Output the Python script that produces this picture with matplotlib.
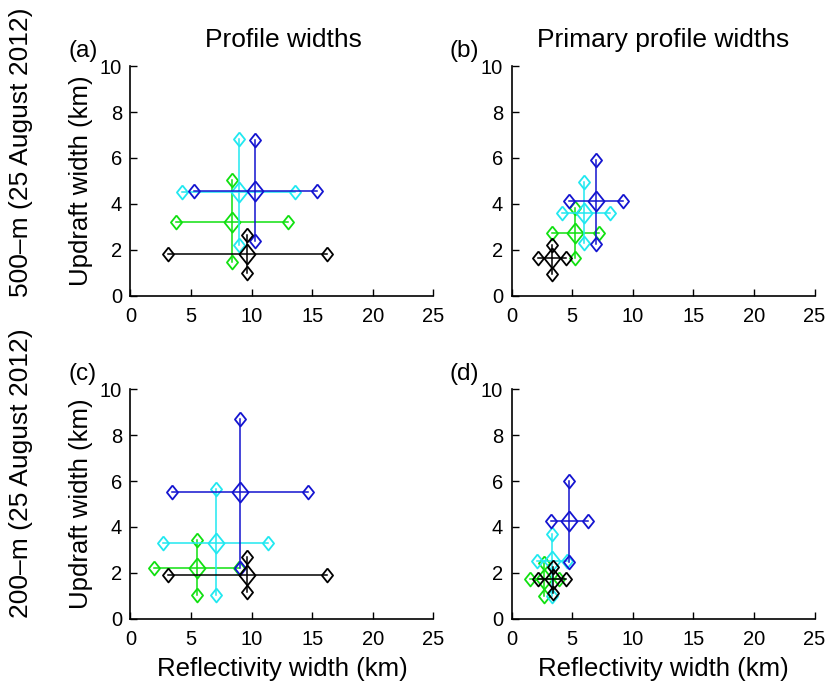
import matplotlib
matplotlib.use("Agg")
import matplotlib.pyplot as plt

plt.rcParams['font.family'] = ['Liberation Sans', 'DejaVu Sans']

# series order: green, cyan, blue, black
colors = ['#10e010', '#20e8f0', '#1414d0', 'black']

# (a) 500-m, profile widths
a_cx = [8.38, 8.99, 10.28, 9.65]
a_cy = [3.23, 4.54, 4.58, 1.82]
a_xlo = [3.76, 4.26, 5.25, 3.07]
a_xhi = [13.03, 13.58, 15.37, 16.25]
a_ylo = [1.48, 2.21, 2.40, 1.00]
a_yhi = [5.05, 6.83, 6.77, 2.65]

# (b) 500-m, primary profile widths
b_cx = [5.28, 6.02, 6.96, 3.32]
b_cy = [2.74, 3.62, 4.13, 1.66]
b_xlo = [3.38, 4.2, 4.77, 2.21]
b_xhi = [7.19, 8.1, 9.22, 4.47]
b_ylo = [1.63, 2.29, 2.26, 0.95]
b_yhi = [3.82, 4.95, 5.90, 2.21]

# (c) 200-m, profile widths
c_cx = [5.47, 7.06, 9.04, 9.65]
c_cy = [2.19, 3.32, 5.50, 1.90]
c_xlo = [1.95, 2.72, 3.46, 3.07]
c_xhi = [8.95, 11.38, 14.68, 16.25]
c_ylo = [1.03, 1.03, 2.23, 1.15]
c_yhi = [3.45, 5.67, 8.71, 2.70]

# (d) 200-m, primary profile widths
d_cx = [2.72, 3.38, 4.74, 3.42]
d_cy = [1.74, 2.53, 4.25, 1.75]
d_xlo = [1.55, 2.08, 3.26, 2.21]
d_xhi = [3.95, 4.62, 6.29, 4.50]
d_ylo = [0.97, 1.0, 2.48, 1.13]
d_yhi = [2.41, 3.68, 6.0, 2.26]

panels = [
    (a_cx, a_cy, a_xlo, a_xhi, a_ylo, a_yhi),
    (b_cx, b_cy, b_xlo, b_xhi, b_ylo, b_yhi),
    (c_cx, c_cy, c_xlo, c_xhi, c_ylo, c_yhi),
    (d_cx, d_cy, d_xlo, d_xhi, d_ylo, d_yhi),
]
letters = ['(a)', '(b)', '(c)', '(d)']

diamond = [(0, 1), (0.8, 0), (0, -1), (-0.8, 0), (0, 1)]

fig = plt.figure(figsize=(8.3, 6.87), dpi=100)
W, H = 830.0, 687.0
lefts = [130.4, 511.5]
bottoms = [295.7, 618.7]
aw, ah = 303.0, 229.5

axes = []
for i, data in enumerate(panels):
    r, c = divmod(i, 2)
    ax = fig.add_axes([lefts[c] / W, 1 - bottoms[r] / H, aw / W, ah / H])
    axes.append(ax)
    cx, cy, xlo, xhi, ylo, yhi = data
    for k in range(len(cx)):
        col = colors[k]
        ax.plot([xlo[k], xhi[k]], [cy[k], cy[k]], color=col, lw=1.1)
        ax.plot([cx[k], cx[k]], [ylo[k], yhi[k]], color=col, lw=1.1)
        ax.plot([xlo[k], xhi[k], cx[k], cx[k]], [cy[k], cy[k], ylo[k], yhi[k]],
                ls='none', marker=diamond, ms=10, mfc='none', mec=col, mew=1.3)
        ax.plot([cx[k]], [cy[k]], ls='none', marker=diamond, ms=14.5, mfc='none',
                mec=col, mew=1.3)
    ax.set_xlim(0, 25)
    ax.set_ylim(0, 10)
    ax.set_xticks([0, 5, 10, 15, 20, 25])
    ax.set_yticks([0, 2, 4, 6, 8, 10])
    for s in ['top', 'right']:
        ax.spines[s].set_visible(False)
    for s in ['left', 'bottom']:
        ax.spines[s].set_linewidth(1.2)
    ax.tick_params(direction='in', length=5, width=1.0, labelsize=14.5)
    ax.tick_params(axis='x', pad=8)
    ax.tick_params(axis='y', pad=6)
    ax.text(-0.205, 1.065, letters[i], transform=ax.transAxes, fontsize=17.5,
            ha='left', va='center')

axes[0].set_ylabel('Updraft width (km)', fontsize=18.5, labelpad=5)
axes[2].set_ylabel('Updraft width (km)', fontsize=18.5, labelpad=5)
axes[2].set_xlabel('Reflectivity width (km)', fontsize=18.5, labelpad=6)
axes[3].set_xlabel('Reflectivity width (km)', fontsize=18.5, labelpad=6)

fig.text(283 / W, 1 - 40 / H, 'Profile widths', fontsize=19, ha='center', va='center')
fig.text(663 / W, 1 - 40 / H, 'Primary profile widths', fontsize=19, ha='center', va='center')
fig.text(21 / W, 1 - 152 / H, '500\u2013m (25 August 2012)', fontsize=19,
         rotation=90, ha='center', va='center')
fig.text(21 / W, 1 - 473 / H, '200\u2013m (25 August 2012)', fontsize=19,
         rotation=90, ha='center', va='center')

fig.savefig('out.png', dpi=100)
